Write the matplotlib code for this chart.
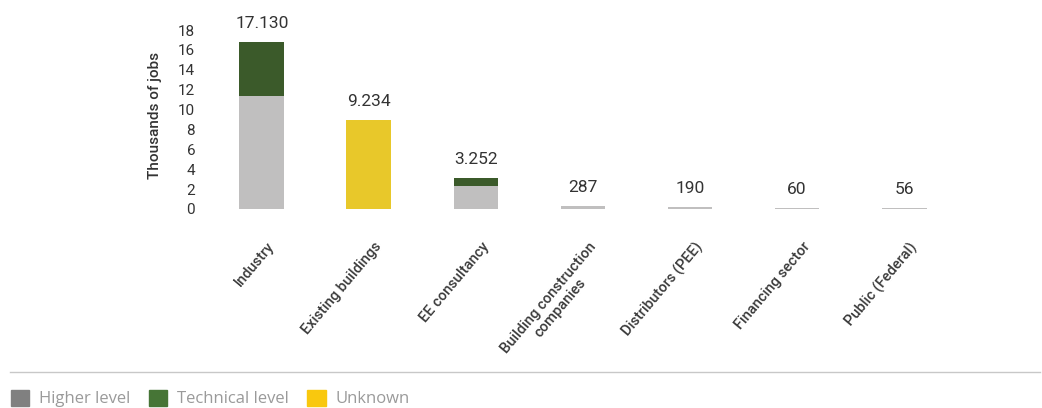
import matplotlib
matplotlib.use("Agg")
import matplotlib.pyplot as plt
from matplotlib.patches import Patch
from matplotlib.lines import Line2D

categories = ["Industry", "Existing buildings", "EE consultancy",
              "Building construction\ncompanies", "Distributors (PEE)",
              "Financing sector", "Public (Federal)"]
higher = [11.4, 0, 2.3, 0.3, 0.2, 0.06, 0.056]
technical = [5.4, 0, 0.8, 0, 0, 0, 0]
unknown = [0, 8.9, 0, 0, 0, 0, 0]
value_labels = ["17.130", "9.234", "3.252", "287", "190", "60", "56"]
yticks = list(range(0, 19, 2))

c_higher = "#c0bfbf"
c_tech = "#3b5a2a"
c_unknown = "#e8c82a"

plt.rcParams['font.family'] = ['Roboto', 'DejaVu Sans']

fig = plt.figure(figsize=(10.42, 4.08), dpi=100)
W, H = 1042, 408
ax = fig.add_axes([200 / W, 1 - 209 / H, 760 / W, 179 / H])

x = list(range(len(categories)))
bw = 0.42
ax.bar(x, higher, bw, color=c_higher)
ax.bar(x, technical, bw, bottom=higher, color=c_tech)
ax.bar(x, unknown, bw, bottom=[h + t for h, t in zip(higher, technical)], color=c_unknown)

tops = [h + t + u for h, t, u in zip(higher, technical, unknown)]
for xi, top, lab in zip(x, tops, value_labels):
    ax.annotate(lab, (xi, top), xytext=(0, 8), textcoords="offset points",
                ha="center", va="bottom", fontsize=12.5, color="#333333")

# category labels, drawn as rotated text under each bar
for xi, cat in zip(x, categories):
    ax.annotate(cat, (xi, 0), xytext=(3.5, -22), textcoords="offset points",
                rotation=50, ha="right", va="top", rotation_mode="anchor",
                fontsize=10.5, fontweight="medium", color="#3a3a3a",
                multialignment="center", annotation_clip=False)

ax.set_xlim(-0.579, 6.523)
ax.set_ylim(0, 18)
ax.set_yticks(yticks)
ax.set_yticklabels([str(t) for t in yticks], fontsize=11, color="#333333")
ax.set_xticks([])
ax.tick_params(axis="y", length=0, pad=3.5)
for s in ax.spines.values():
    s.set_visible(False)
ax.set_ylabel("Thousands of jobs", fontsize=11, fontweight="medium", color="#333333")
ax.yaxis.set_label_coords(-0.05, 0.525)

fig.add_artist(Line2D([10 / W, 1040 / W], [1 - 372 / H, 1 - 372 / H],
                      color="#c8c8c8", linewidth=1))

handles = [Patch(color="#808080"), Patch(color="#467536"), Patch(color="#f9c80e")]
fig.legend(handles, ["Higher level", "Technical level", "Unknown"],
           loc="lower left", bbox_to_anchor=(-0.004, -0.035), ncol=3, frameon=False,
           handlelength=1.1, handleheight=1.1, columnspacing=1.1,
           handletextpad=0.6, prop={"family": "Open Sans", "size": 12},
           labelcolor="#9a9a9a")

fig.savefig("out.png", dpi=100)
